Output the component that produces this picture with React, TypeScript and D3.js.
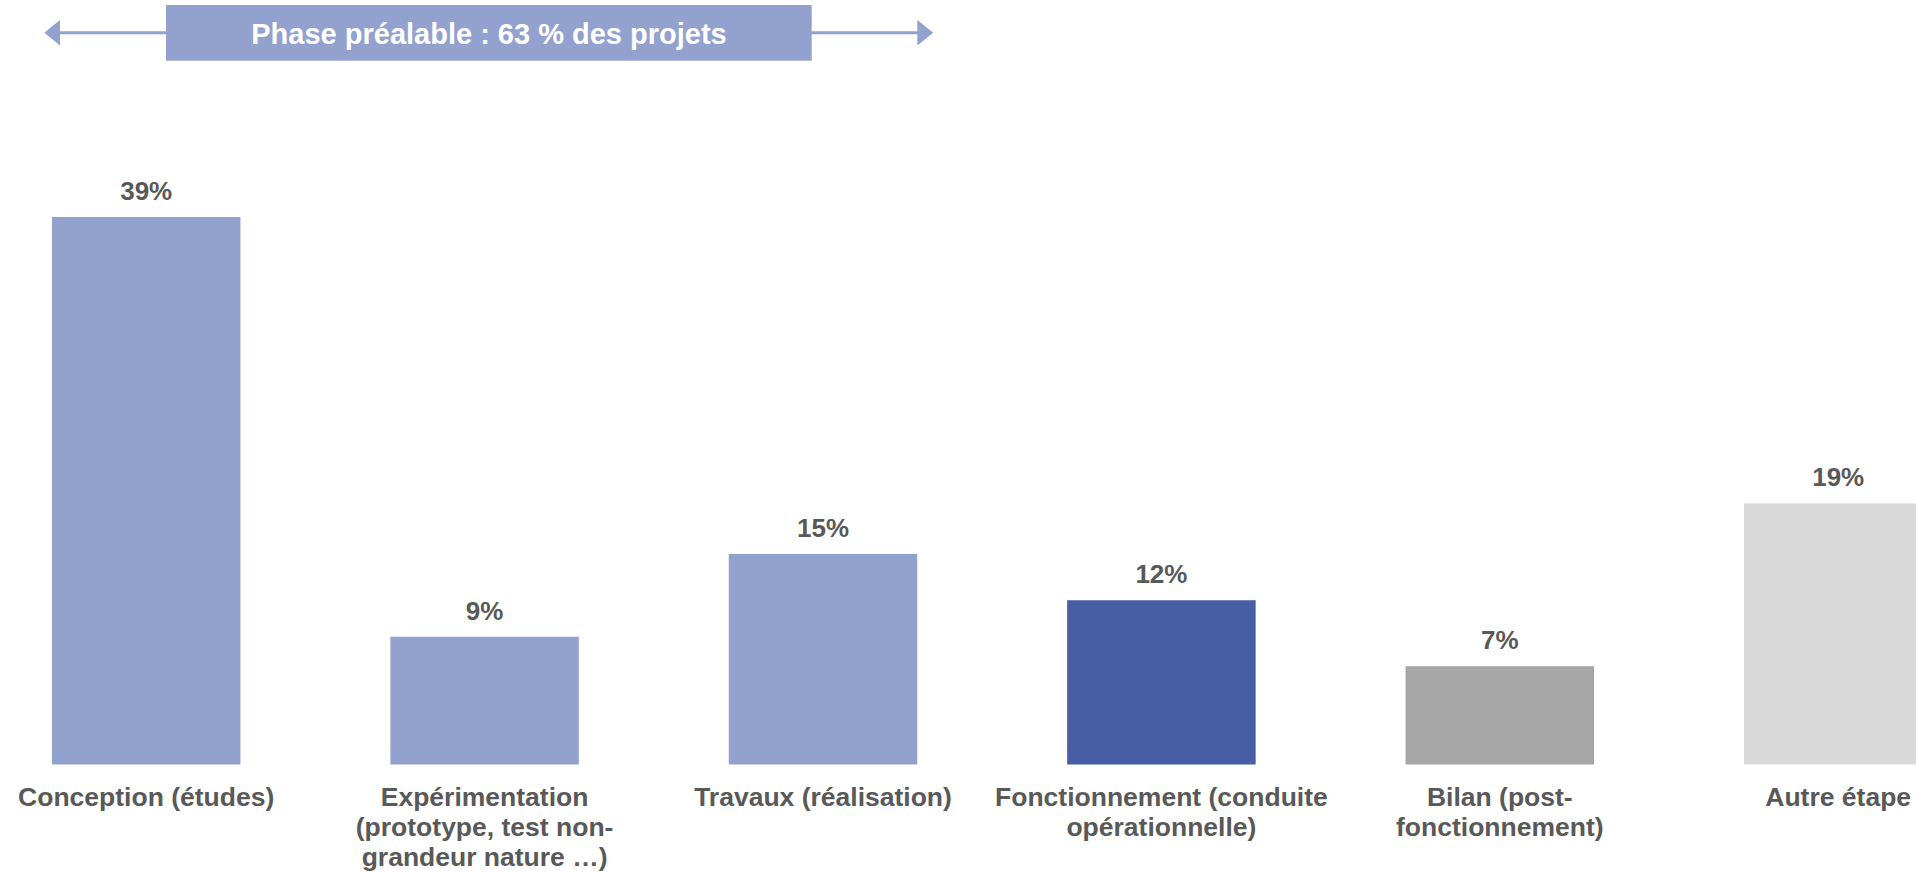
import React from "react";
import * as d3 from "d3";

// categories as they are wrapped under the bars
const categories: string[][] = [
  ["Conception (études)"],
  ["Expérimentation", "(prototype, test non-", "grandeur nature …)"],
  ["Travaux (réalisation)"],
  ["Fonctionnement (conduite", "opérationnelle)"],
  ["Bilan (post-", "fonctionnement)"],
  ["Autre étape"],
];

// share of projects (%)
const shares = [39, 9.1, 15, 11.7, 7, 18.6];

const barColors = ["#93a1cf", "#93a1cf", "#93a1cf", "#485ea4", "#a6a6a6", "#d9d9d9"];

const headerText = "Phase préalable : 63 % des projets";

const W = 1916;
const H = 873;
const FONT = "'Liberation Sans', Arial, sans-serif";
const TEXT_GREY = "#595959";

const App = () => {
  const baseY = 764.5;

  const x = d3
    .scaleBand<number>()
    .domain(d3.range(shares.length))
    .range([-23, 2007.4])
    .paddingInner(0.443)
    .paddingOuter(0.2215);

  const y = d3.scaleLinear().domain([0, 39]).range([baseY, 217]);

  // header arrow
  const arrowY = 32.7;
  const arrow = d3.line();

  return (
    <svg
      width={W}
      height={H}
      style={{ position: "absolute", left: 0, top: 0, background: "#fff" }}
      fontFamily={FONT}
    >
      {/* double arrow behind the phase box */}
      <line x1={58} x2={919} y1={arrowY} y2={arrowY} stroke="#93a1cf" strokeWidth={3} />
      <path
        d={arrow([[44.3, arrowY], [60, arrowY - 12.8], [60, arrowY + 12.8]]) + "Z"}
        fill="#93a1cf"
      />
      <path
        d={arrow([[933.3, arrowY], [917.3, arrowY - 12.8], [917.3, arrowY + 12.8]]) + "Z"}
        fill="#93a1cf"
      />
      <rect x={166} y={5} width={645.7} height={55.7} fill="#93a1cf" />
      <text
        x={489}
        y={44}
        textAnchor="middle"
        fill="#fff"
        fontWeight="bold"
        fontSize={29}
      >
        {headerText}
      </text>

      {shares.map((v, i) => {
        const bx = x(i) as number;
        const cx = bx + x.bandwidth() / 2;
        return (
          <g key={i}>
            <rect
              x={bx}
              y={y(v)}
              width={x.bandwidth()}
              height={baseY - y(v)}
              fill={barColors[i]}
            />
            <text
              x={cx}
              y={y(v) - 17}
              textAnchor="middle"
              fill={TEXT_GREY}
              fontWeight="bold"
              fontSize={26}
            >
              {Math.round(v) + "%"}
            </text>
            <text
              x={cx}
              y={baseY + 41}
              textAnchor="middle"
              fill={TEXT_GREY}
              fontWeight="bold"
              fontSize={26.5}
            >
              {categories[i].map((line, j) => (
                <tspan key={j} x={cx} dy={j === 0 ? 0 : 30.3}>
                  {line}
                </tspan>
              ))}
            </text>
          </g>
        );
      })}
    </svg>
  );
};

export default App;
